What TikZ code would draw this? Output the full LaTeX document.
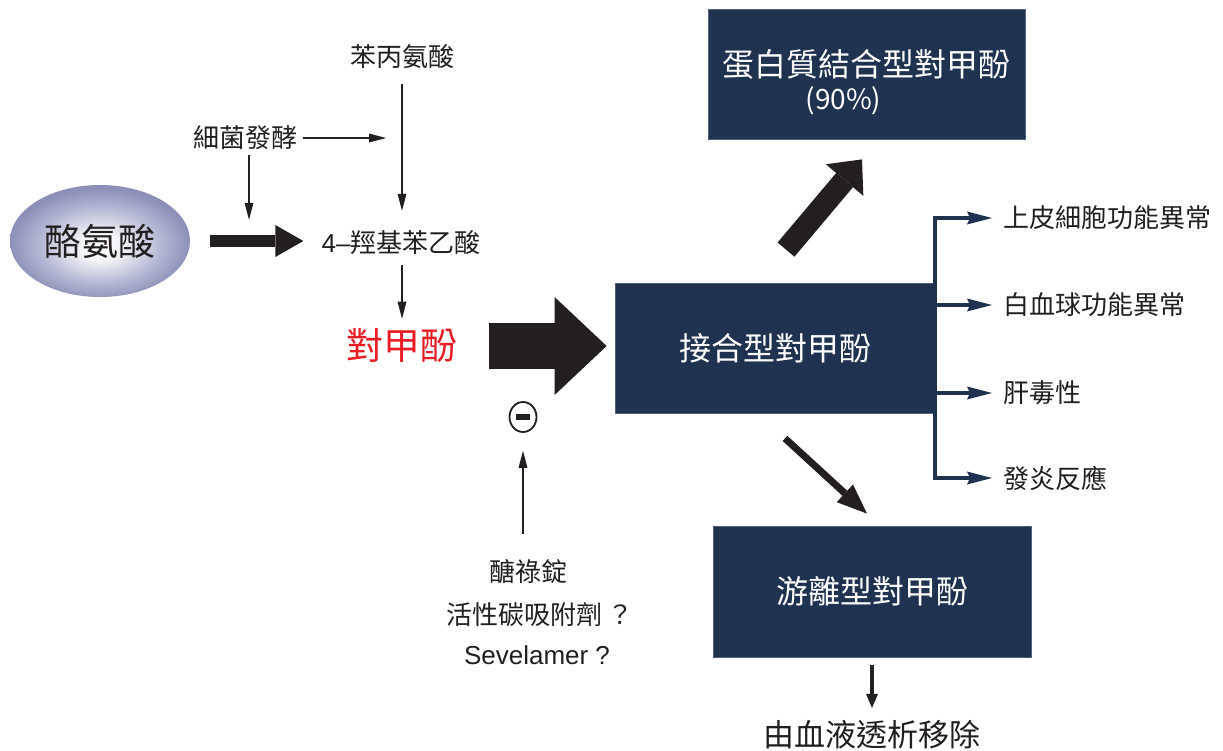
\documentclass[tikz,border=0pt]{standalone}
\usepackage{fontspec}
\setmainfont{Noto Sans CJK TC}
\newfontfamily\lat{Liberation Sans}
\usetikzlibrary{arrows.meta,shapes.geometric}
\definecolor{navy}{HTML}{1F3350}
\definecolor{edge}{HTML}{52627E}
\definecolor{ink}{HTML}{231F20}
\definecolor{ellout}{HTML}{8C90B8}
\definecolor{ellmid}{HTML}{B4B7D3}
\definecolor{ellin}{HTML}{F4F4F8}
\definecolor{pcred}{HTML}{ED1C24}
\pgfdeclareradialshading{tyrshade}{\pgfpoint{0bp}{-3bp}}{color(0bp)=(white); color(6bp)=(ellin); color(17bp)=(ellmid); color(25bp)=(ellout); color(50bp)=(ellout)}
\begin{document}
\begin{tikzpicture}[x=1pt,y=-1pt,
  lbl/.style={inner sep=0pt,text=ink,font=\fontsize{26}{30}\selectfont},
  biglbl/.style={inner sep=0pt,text=ink,font=\fontsize{37}{42}\selectfont},
  navybox/.style={fill=navy,draw=edge,line width=0.8pt,text=white,inner sep=0pt,font=\fontsize{32}{33}\selectfont,align=center},
  thinarrow/.style={draw=ink,line width=1.6pt,-{Triangle[length=17pt,width=9pt,line width=0pt]}},
  bigarrowA/.style={draw=ink,line width=12pt,-{Triangle[length=28pt,width=32pt,line width=0pt]}},
  bigarrowB/.style={draw=ink,line width=46pt,-{Triangle[length=52pt,width=98pt,line width=0pt]}},
  bigarrowC/.style={draw=ink,line width=22pt,-{Triangle[length=27pt,width=49pt,line width=0pt]}},
  medarrow/.style={draw=ink,line width=7pt,-{Triangle[length=30pt,width=24pt,line width=0pt]}},
  downarrow/.style={draw=ink,line width=3.5pt,-{Triangle[length=14pt,width=12pt,line width=0pt]}},
  branch/.style={draw=navy,line width=4pt,-{Stealth[length=25pt,width=13pt,inset=3pt,line width=0pt]}}
]
\useasboundingbox[fill=white] (0,0) rectangle (1223,750);

% nodes
\node[ellipse, minimum width=180pt, minimum height=112pt, inner sep=0pt,
      shading=tyrshade, text=ink, font=\fontsize{37}{42}\selectfont] (tyr) at (100,241) {酪氨酸};
\node[lbl] (phe) at (402,57) {苯丙氨酸};
\node[lbl] (bac) at (245,138) {細菌發酵};
\node[lbl] (hpa) at (401,243) {{\lat 4–}羥基苯乙酸};
\node[biglbl, text=pcred] (pc) at (402,346) {對甲酚};
\node[navybox, minimum width=320pt, minimum height=130pt] (conj) at (775,348) {接合型對甲酚};
\node[navybox, minimum width=317pt, minimum height=130pt] (prot) at (866.5,74)
  {\rule{0pt}{44pt}蛋白質結合型對甲酚\\\hspace*{-46pt}{\fontsize{28}{33}\selectfont(90\%)}};
\node[navybox, minimum width=318pt, minimum height=131pt] (free) at (872,591.5) {游離型對甲酚};
\node[inner sep=0pt, text=ink, font=\fontsize{31}{35}\selectfont] (rem) at (872,735) {由血液透析移除};

\node[lbl, anchor=west] (epi) at (1003,218) {上皮細胞功能異常};
\node[lbl, anchor=west] (wbc) at (1003,305) {白血球功能異常};
\node[lbl, anchor=west] (liv) at (1003,393) {肝毒性};
\node[lbl, anchor=west] (infl) at (1003,478) {發炎反應};

\node[ellipse, draw=ink, line width=1.8pt, minimum width=27pt, minimum height=30pt, inner sep=0pt] (neg) at (523,417) {};
\fill[ink] ([shift={(-7pt,-3pt)}]neg.center) rectangle ([shift={(7pt,3pt)}]neg.center);

\node[lbl] (d1) at (528,572) {醣祿錠};
\node[lbl] (d2) at (540,615) {活性碳吸附劑 ？};
\node[lbl, font=\lat\fontsize{26}{30}\selectfont] (d3) at (537,655) {Sevelamer ?};

% connectors
\draw[thinarrow, shorten <=15pt, shorten >=20pt] (phe.south) -- (phe.south |- hpa.north);
\draw[thinarrow, shorten <=6pt, shorten >=16pt] (bac.east) -- (bac.east -| phe.south);
\draw[thinarrow, shorten <=5pt, shorten >=11pt] ([xshift=4pt]bac.south) -- ([xshift=4pt]bac.south |- hpa.north);
\draw[bigarrowA, shorten <=20pt, shorten >=18pt] (tyr.east) -- (tyr.east -| hpa.west);
\draw[thinarrow, shorten <=10pt, shorten >=10pt] (hpa.south -| pc.north) -- (pc.north);
\draw[bigarrowB, shorten <=31.5pt, shorten >=8pt] (pc.east) -- (pc.east -| conj.west);
\draw[bigarrowC] ([shift={(11pt,33pt)}]conj.north) -- ([shift={(-4.5pt,-20pt)}]prot.south);
\draw[medarrow] ([shift={(10pt,-25pt)}]conj.south) -- ([shift={(-5pt,12pt)}]free.north);
\draw[downarrow, shorten <=8pt, shorten >=12.5pt] (free.south) -- (rem.north);
\draw[thinarrow, shorten <=26pt, shorten >=18pt] (neg.south |- d1.north) -- (neg.south);

\draw[navy, line width=4pt] (conj.east |- epi.west) -- (conj.east |- infl.west);
\foreach \t in {epi,wbc,liv,infl}
  \draw[branch] ([xshift=-2pt]conj.east |- \t.west) -- ([xshift=-11pt]\t.west);
\end{tikzpicture}
\end{document}
